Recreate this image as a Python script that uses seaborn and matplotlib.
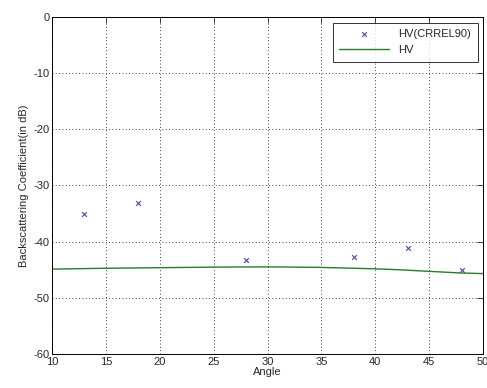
import numpy as np
import pandas as pd
import matplotlib
matplotlib.use("Agg")
import matplotlib.pyplot as plt
import seaborn as sns

# measured points (CRREL90)
meas_angle = [13, 18, 28, 38, 43, 48]
meas_hv = [-35.1, -33.2, -43.2, -42.7, -41.1, -45.0]

# model curve
model_angle = [10, 15, 20, 25, 30, 35, 40, 42, 44, 46, 48, 50]
model_hv = [-44.9, -44.75, -44.65, -44.55, -44.5, -44.6, -44.85, -45.0, -45.2, -45.4, -45.6, -45.7]

sns.set_style("white")
plt.rcParams['font.family'] = ['Liberation Sans', 'DejaVu Sans']
plt.rcParams['axes.unicode_minus'] = False

fig = plt.figure(figsize=(4.87, 3.88), dpi=100)
ax = fig.add_axes([0.107, 0.088, 0.885, 0.868])

df_meas = pd.DataFrame({"angle": meas_angle, "hv": meas_hv})
df_model = pd.DataFrame({"angle": model_angle, "hv": model_hv})

sns.scatterplot(data=df_meas, x="angle", y="hv", marker="x", color="#4b4ba0",
                s=12, linewidth=0.8, label="HV(CRREL90)", ax=ax)
sns.lineplot(data=df_model, x="angle", y="hv", color="#2a7a2a", linewidth=1.0,
             label="HV", ax=ax)

ax.set_xlim(10, 50)
ax.set_ylim(-60, 0)
ax.set_xticks(np.arange(10, 51, 5))
ax.set_yticks(np.arange(-60, 1, 10))
ax.grid(True, color="black", linestyle=(0, (1, 3)), linewidth=0.6)
ax.tick_params(direction="in", top=True, right=True, labelsize=8, length=4, width=0.6, pad=2)
for s in ax.spines.values():
    s.set_color("black")
    s.set_linewidth(0.7)

ax.set_xlabel("Angle", fontsize=8, labelpad=0)
ax.set_ylabel("Backscattering Coefficient(in dB)", fontsize=8, labelpad=3)

leg = ax.legend(loc="upper right", fontsize=8, frameon=True, fancybox=False,
                edgecolor="black", borderaxespad=0.5, handlelength=4.5,
                borderpad=0.6)
leg.get_frame().set_linewidth(0.7)

fig.savefig("out.png", dpi=100)
